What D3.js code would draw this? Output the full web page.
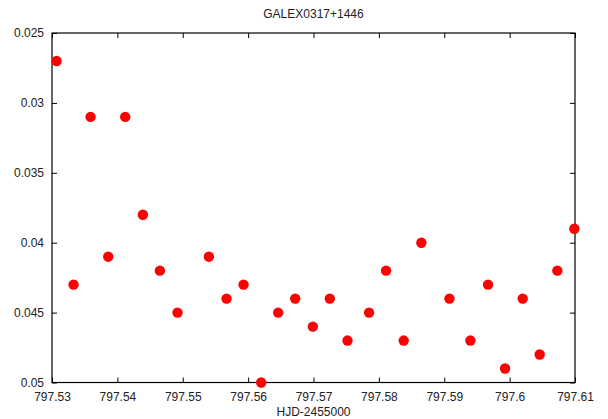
<!doctype html>
<html lang="en">
<head>
<meta charset="utf-8">
<title>GALEX0317+1446</title>
<script src="https://d3js.org/d3.v7.min.js"></script>
<style>
    body { margin: 0; background: #fff; }
    svg text { font-family: "Liberation Sans", Arial, sans-serif; font-size: 12px; fill: #222; }
</style>
</head>
<body>
<div id="chart"></div>
<script>
    // HJD-2455000 and the plotted value (y axis is inverted)
    const hjd = [
        797.5307, 797.5333, 797.5359, 797.5386, 797.5412, 797.5439, 797.5465, 797.5492,
        797.5540, 797.5567, 797.5593, 797.5620, 797.5646, 797.5672, 797.5699, 797.5725,
        797.5752, 797.5785, 797.5811, 797.5838, 797.5865, 797.5908, 797.5940, 797.5967,
        797.5993, 797.6020, 797.6046, 797.6073, 797.6099
    ];
    const mag = [
        0.027, 0.043, 0.031, 0.041, 0.031, 0.038, 0.042, 0.045,
        0.041, 0.044, 0.043, 0.050, 0.045, 0.044, 0.046, 0.044,
        0.047, 0.045, 0.042, 0.047, 0.040, 0.044, 0.047, 0.043,
        0.049, 0.044, 0.048, 0.042, 0.039
    ];
    const xTicks = [797.53, 797.54, 797.55, 797.56, 797.57, 797.58, 797.59, 797.6, 797.61];
    const yTicks = [0.025, 0.03, 0.035, 0.04, 0.045, 0.05];

    const width = 608, height = 419;
    const margin = {top: 33, right: 33, bottom: 36.5, left: 52};
    const iw = width - margin.left - margin.right;
    const ih = height - margin.top - margin.bottom;

    const svg = d3.select('#chart').append('svg')
        .attr('width', width)
        .attr('height', height);

    const x = d3.scaleLinear().domain([797.53, 797.61]).range([0, iw]);
    const y = d3.scaleLinear().domain([0.025, 0.05]).range([0, ih]);

    const g = svg.append('g').attr('transform', `translate(${margin.left},${margin.top})`);

    // inward ticks on every side, like gnuplot
    const tickLen = 5;
    g.append('g')
        .attr('transform', `translate(0,${ih})`)
        .call(d3.axisBottom(x).tickValues(xTicks).tickSize(-tickLen).tickPadding(10)
            .tickFormat(d => String(+d.toFixed(2))));
    g.append('g')
        .call(d3.axisTop(x).tickValues(xTicks).tickSize(-tickLen).tickFormat(''));
    g.append('g')
        .call(d3.axisLeft(y).tickValues(yTicks).tickSize(-tickLen).tickPadding(8)
            .tickFormat(d => String(+d.toFixed(3))));
    g.append('g')
        .attr('transform', `translate(${iw},0)`)
        .call(d3.axisRight(y).tickValues(yTicks).tickSize(-tickLen).tickFormat(''));

    g.selectAll('.domain').remove();
    g.selectAll('.tick line').attr('stroke', '#000');

    g.append('rect')
        .attr('width', iw)
        .attr('height', ih)
        .attr('fill', 'none')
        .attr('stroke', '#000')
        .attr('stroke-width', 1.2);

    g.selectAll('circle.pt')
        .data(hjd.map((d, i) => [d, mag[i]]))
        .join('circle')
        .attr('class', 'pt')
        .attr('cx', d => x(d[0]))
        .attr('cy', d => y(d[1]))
        .attr('r', 5.2)
        .attr('fill', '#ff0000');

    svg.append('text')
        .attr('x', margin.left + iw / 2)
        .attr('y', 18)
        .attr('text-anchor', 'middle')
        .text('GALEX0317+1446');

    svg.append('text')
        .attr('x', margin.left + iw / 2)
        .attr('y', 416)
        .attr('text-anchor', 'middle')
        .text('HJD-2455000');
</script>
</body>
</html>
